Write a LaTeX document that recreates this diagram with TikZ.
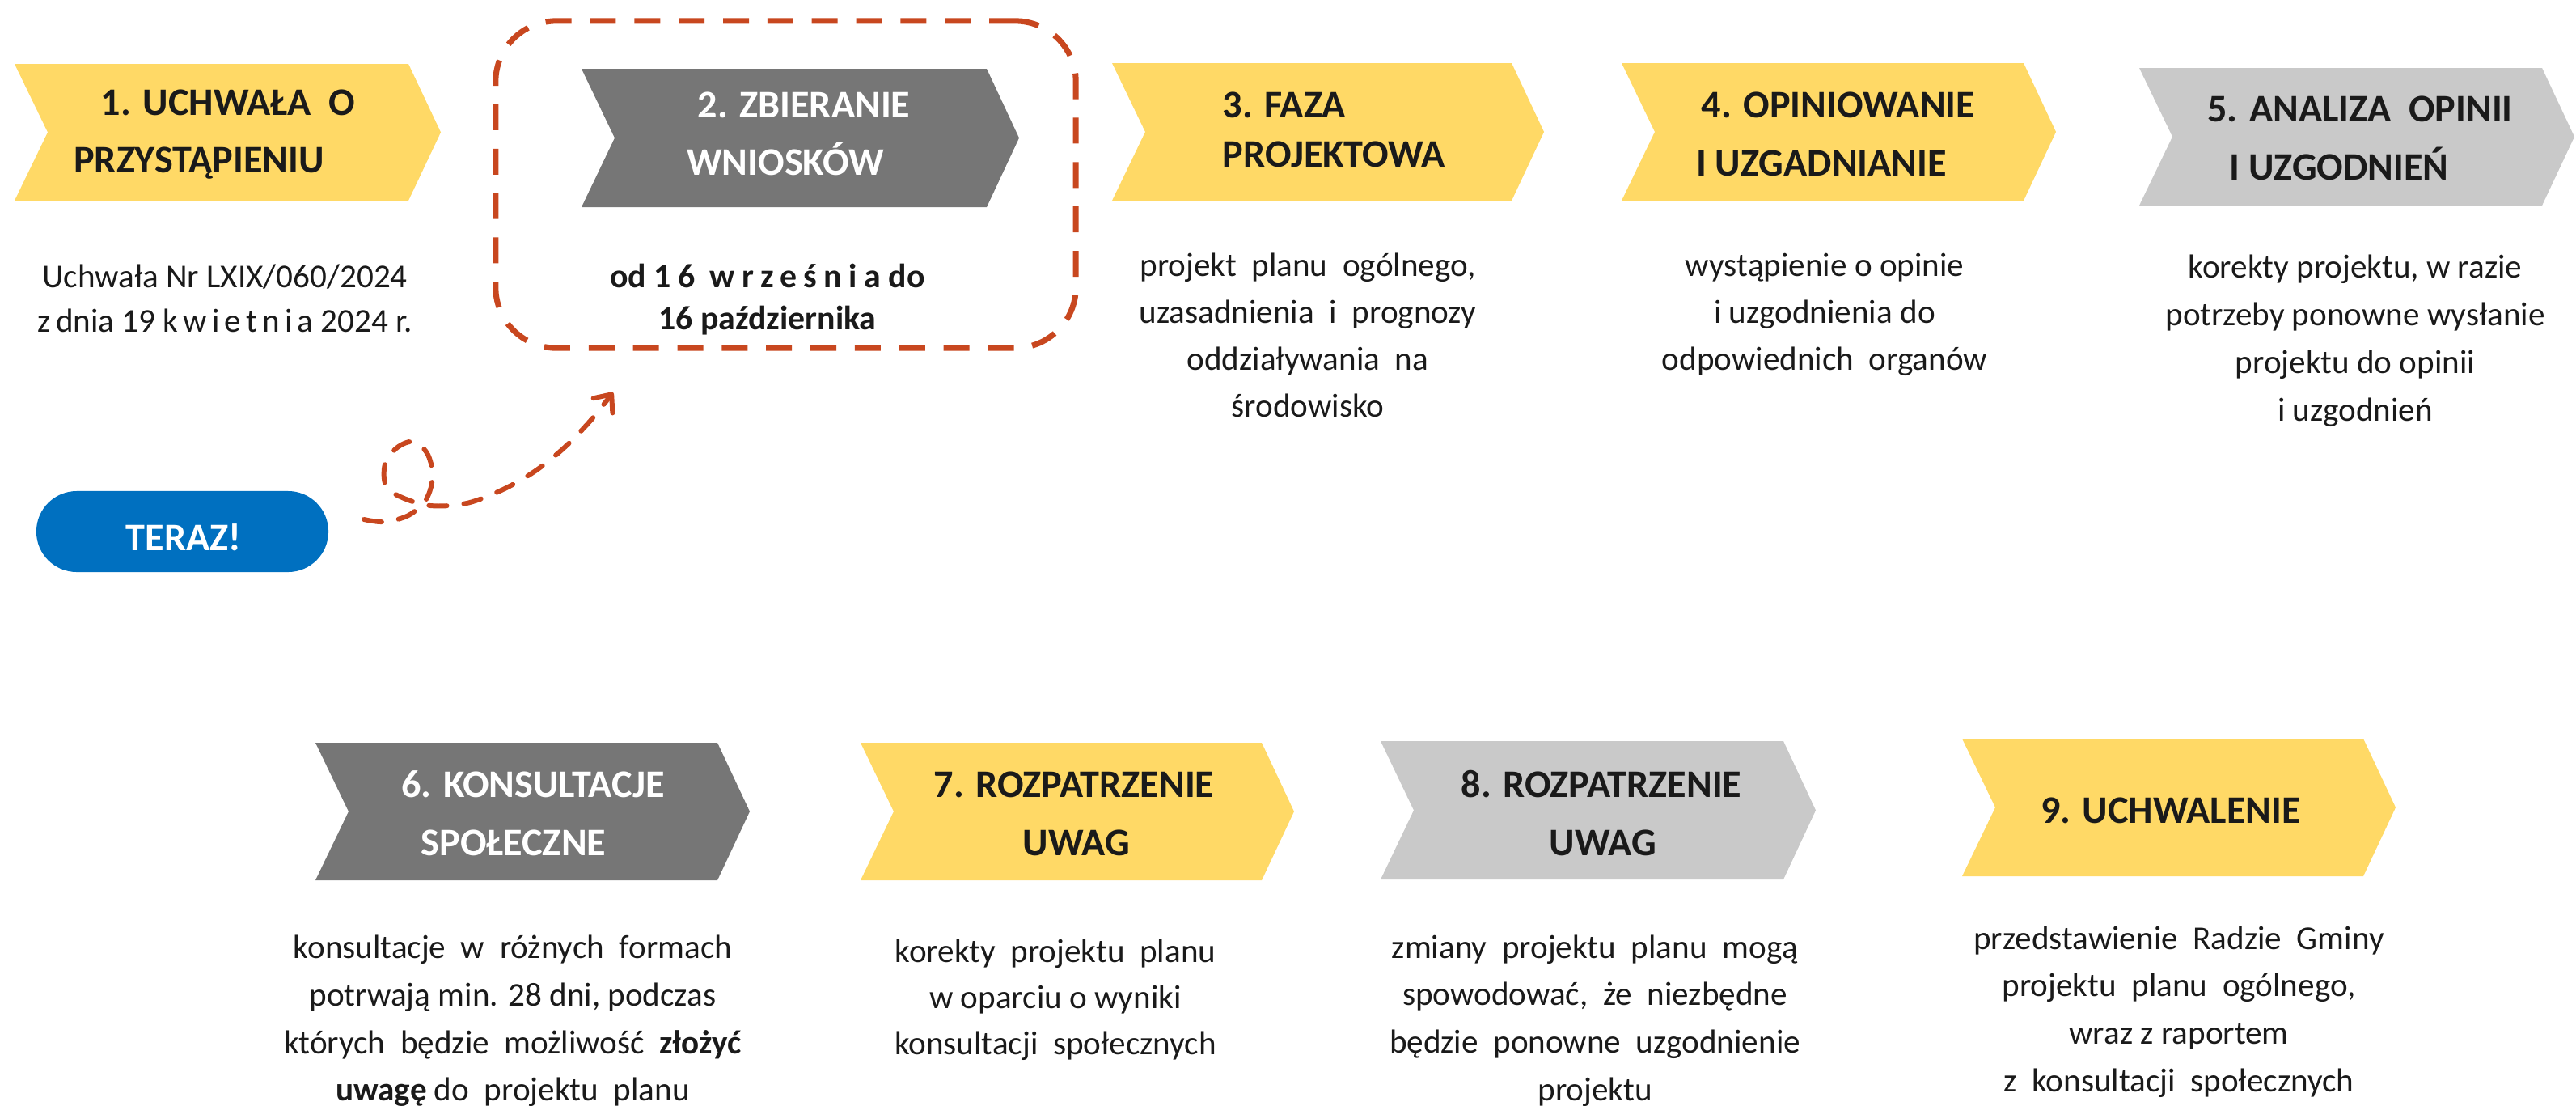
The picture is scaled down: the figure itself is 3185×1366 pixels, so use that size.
\documentclass[tikz,border=0pt]{standalone}
\usepackage{fontspec}
\setmainfont{Carlito}
\usetikzlibrary{arrows.meta}
\definecolor{cyellow}{HTML}{FFD966}
\definecolor{cdark}{HTML}{767676}
\definecolor{clight}{HTML}{C9C9C9}
\definecolor{cblue}{HTML}{0070C0}
\definecolor{cred}{HTML}{C8471F}
\definecolor{ctext}{HTML}{1A1A1A}
\newcommand{\chev}[6]{%
  \fill[#6] (#2,#4) -- (#3,#4) -- ({#3+40},{(#4+#5)/2}) -- (#3,#5) -- (#2,#5) -- ({#2+41},{(#4+#5)/2}) -- cycle;
  \coordinate (#1) at ({(#2+#3)/2},{(#4+#5)/2});}
\begin{document}
\begin{tikzpicture}[x=0.01cm,y=-0.01cm,
  title/.style={font=\fontsize{13.7}{16}\bfseries\selectfont, text=ctext, anchor=base, inner sep=0pt},
  titlew/.style={title, text=white},
  body/.style={font=\fontsize{11.7}{14}\selectfont, text=ctext, anchor=base, inner sep=0pt},
  bodyb/.style={font=\fontsize{11.9}{14}\bfseries\selectfont, text=ctext, anchor=base, inner sep=0pt},
  framebox/.style={draw=cred, line width=2pt, dash pattern=on 9.1pt off 6.5pt, rounded corners=0.75cm},
  pill/.style={fill=cblue, rounded corners=0.5cm, minimum width=3.61cm, minimum height=1cm, inner sep=0pt},
  dasharrow/.style={draw=cred, line width=1.7pt, line cap=round, dash pattern=on 6.3pt off 6pt,
    -{Straight Barb[length=5pt,width=8.5pt,round]}}]
\useasboundingbox (0,0) rectangle (3185,1366);

% chevrons, top row
\chev{c1}{18}{505}{79}{248}{cyellow}
\chev{c2}{719}{1220}{85}{256}{cdark}
\chev{c3}{1375}{1869}{78}{248}{cyellow}
\chev{c4}{2005}{2502}{78}{248}{cyellow}
\chev{c5}{2645}{3143}{84}{254}{clight}
% chevrons, bottom row
\chev{c6}{390}{887}{918}{1088}{cdark}
\chev{c7}{1064}{1560}{918}{1088}{cyellow}
\chev{c8}{1707}{2205}{916}{1087}{clight}
\chev{c9}{2426}{2922}{913}{1083}{cyellow}

% titles
\node[title] (t1a) at (282,142) {1. UCHWAŁA~ O};
\node[title] (t1b) at (246,213) {PRZYSTĄPIENIU};
\node[titlew] (t2a) at (994,145) {2. ZBIERANIE};
\node[titlew] (t2b) at (971,216) {WNIOSKÓW};
\node[title, anchor=base west] (t3a) at (1511,145) {3. FAZA};
\node[title, anchor=base west] (t3b) at (1511,206) {PROJEKTOWA};
\node[title] (t4a) at (2273,145) {4. OPINIOWANIE};
\node[title] (t4b) at (2252,217) {I UZGADNIANIE};
\node[title] (t5a) at (2918,150) {5. ANALIZA~ OPINII};
\node[title] (t5b) at (2892,222) {I UZGODNIEŃ};
\node[titlew] (t6a) at (659,985) {6. KONSULTACJE};
\node[titlew] (t6b) at (635,1057) {SPOŁECZNE};
\node[title] (t7a) at (1328,985) {7. ROZPATRZENIE};
\node[title] (t7b) at (1331,1057) {UWAG};
\node[title] (t8a) at (1980,985) {8. ROZPATRZENIE};
\node[title] (t8b) at (1982,1057) {UWAG};
\node[title] (t9a) at (2684,1017) {9. UCHWALENIE};

% descriptions, top row
\node[body] (d1a) at (278,355) {Uchwała Nr LXIX/060/2024};
\node[body] (d1b) at (278,410) {z\,dnia 19 {\addfontfeature{LetterSpace=15}kwietnia} 2024 r.};
\node[bodyb] (d2a) at (949,355) {od {\addfontfeature{LetterSpace=20}16 września} do};
\node[bodyb] (d2b) at (949,407) {16 października};
\node[body] (d3a) at (1617,341) {projekt~ planu~ ogólnego,};
\node[body] (d3b) at (1617,399) {uzasadnienia~ i~ prognozy};
\node[body] (d3c) at (1617,457) {oddziaływania~ na};
\node[body] (d3d) at (1617,515) {środowisko};
\node[body] (d4a) at (2256,341) {wystąpienie o opinie};
\node[body] (d4b) at (2256,399) {i uzgodnienia do};
\node[body] (d4c) at (2256,457) {odpowiednich~ organów};
\node[body] (d5a) at (2912,343) {korekty projektu, w razie};
\node[body] (d5b) at (2912,402) {potrzeby ponowne wysłanie};
\node[body] (d5c) at (2912,461) {projektu do opinii};
\node[body] (d5d) at (2912,520) {i uzgodnień};

% descriptions, bottom row
\node[body] (d6a) at (634,1184) {konsultacje~ w~ różnych~ formach};
\node[body] (d6b) at (634,1243) {potrwają min. 28 dni, podczas};
\node[body] (d6c) at (634,1302) {których~ będzie~ możliwość~ \textbf{złożyć}};
\node[body] (d6d) at (634,1360) {\textbf{uwagę} do~ projektu~ planu};
\node[body] (d7a) at (1305,1189) {korekty~ projektu~ planu};
\node[body] (d7b) at (1305,1246) {w oparciu o wyniki};
\node[body] (d7c) at (1305,1303) {konsultacji~ społecznych};
\node[body] (d8a) at (1972,1184) {zmiany~ projektu~ planu~ mogą};
\node[body] (d8b) at (1972,1242) {spowodować,~ że~ niezbędne};
\node[body] (d8c) at (1972,1301) {będzie~ ponowne~ uzgodnienie};
\node[body] (d8d) at (1972,1360) {projektu};
\node[body] (d9a) at (2694,1173) {przedstawienie~ Radzie~ Gminy};
\node[body] (d9b) at (2694,1231) {projektu~ planu~ ogólnego,};
\node[body] (d9c) at (2694,1290) {wraz z raportem};
\node[body] (d9d) at (2694,1349) {z~ konsultacji~ społecznych};

% highlight frame around step 2
\node[framebox, minimum width=7.17cm, minimum height=4.04cm] (frame) at (971.5,228) {};

% TERAZ! pill
\node[pill] (teraz) at (225.5,657) {};
\node[titlew] (terazt) at (227,680) {TERAZ!};

% looping dashed arrow
\coordinate (astart) at (450,642);
\coordinate (aend) at (758,485);
\draw[dasharrow] plot[smooth, tension=0.55] coordinates {(astart) (475,645) (505,637) (527,617) (535,588) (528,560) (510,546) (490,554) (476,574) (477,600) (495,614) (532,625) (577,622) (622,605) (662,582) (698,553) (730,520) (aend)};
\end{tikzpicture}
\end{document}
